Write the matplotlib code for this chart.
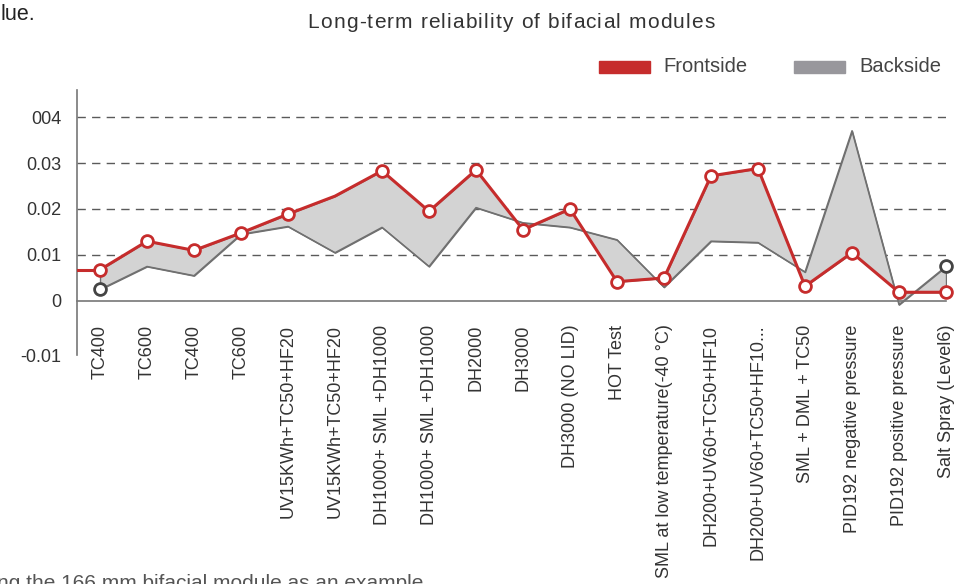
import matplotlib
matplotlib.use('Agg')
import matplotlib.pyplot as plt
from matplotlib.patches import Rectangle
from matplotlib.font_manager import FontProperties
import numpy as np

plt.rcParams['font.family'] = ['Liberation Sans', 'DejaVu Sans']

# data
tests = ['TC400', 'TC600', 'TC400', 'TC600',
         'UV15KWh+TC50+HF20', 'UV15KWh+TC50+HF20',
         'DH1000+ SML +DH1000', 'DH1000+ SML +DH1000',
         'DH2000', 'DH3000', 'DH3000 (NO LID)', 'HOT Test',
         'SML at low temperature(-40 °C)',
         'DH200+UV60+TC50+HF10', 'DH200+UV60+TC50+HF10...',
         'SML + DML + TC50', 'PID192 negative pressure',
         'PID192 positive pressure', 'Salt Spray (Level6)']
front = [0.0068, 0.0130, 0.0110, 0.0148, 0.0189, 0.0228, 0.0283, 0.0195,
         0.0285, 0.0155, 0.0200, 0.0042, 0.0050, 0.0272, 0.0288, 0.0032,
         0.0105, 0.0019, 0.0019]
back = [0.0025, 0.0075, 0.0055, 0.0145, 0.0162, 0.0105, 0.0160, 0.0075,
        0.0203, 0.0170, 0.0160, 0.0133, 0.0030, 0.0130, 0.0127, 0.0063,
        0.0370, -0.0008, 0.0075]
front_nomark = [5]          # point drawn without a circle
yticks = [-0.01, 0, 0.01, 0.02, 0.03, 0.04]
yticklabels = ['-0.01', '0', '0.01', '0.02', '0.03', '004']
grid_levels = [0.01, 0.02, 0.03, 0.04]

RED = '#c62c2c'
GREY_FILL = '#d3d3d3'
GREY_LINE = '#707070'


def spaced_text(fig, xc, y, s, size, gap, color):
	# matplotlib has no letter spacing, so place the characters one by one
	r = fig.canvas.get_renderer()
	fp = FontProperties(family='Liberation Sans', size=size)
	def wid(t):
		return r.get_text_width_height_descent(t + 'l', fp, ismath=False)[0] - \
			r.get_text_width_height_descent('l', fp, ismath=False)[0]
	total = wid(s) + gap*(len(s)-1)
	x0 = xc - total/2
	for i, ch in enumerate(s):
		if ch == ' ':
			continue
		xp = x0 + wid(s[:i]) + gap*i
		fig.text(xp/fig.bbox.width, y, ch, ha='left', va='center',
				 fontproperties=fp, color=color)


fig = plt.figure(figsize=(9.68, 5.84), dpi=100)
W, H = 968., 584.
ax = fig.add_axes([77/W, 1-355/H, (946-77)/W, (355-90)/H])

x = np.arange(len(tests))
xmin, xmax = -0.49, len(tests)-1
ymin, ymax = -0.01174, 0.04587
ax.set_xlim(xmin, xmax)
ax.set_ylim(ymin, ymax)

for g in grid_levels:
	ax.axhline(g, color='#5a5a5a', lw=1.0, dashes=(6, 4.5), zorder=0)

ax.fill_between(x, front, back, facecolor=GREY_FILL, edgecolor=GREY_LINE,
				lw=1.0, zorder=1)
ax.plot(x, back, color=GREY_LINE, lw=1.1, zorder=2)
ax.plot([x[0], x[-1]], [back[0], back[-1]], ls='none', marker='o', ms=8.5,
		mfc='white', mec='#444444', mew=2, zorder=5, clip_on=False)

ax.plot([xmin, x[0]], [front[0], front[0]], color=RED, lw=2.2, zorder=3)
marks = [i for i in range(len(front)) if i not in front_nomark]
ax.plot(x, front, color=RED, lw=2.2, marker='o', ms=8.5, mfc='white',
		mec=RED, mew=2, markevery=marks, zorder=4, clip_on=False)

# axes styling
for s in ['top', 'right']:
	ax.spines[s].set_visible(False)
ax.spines['bottom'].set_position(('data', 0))
ax.spines['bottom'].set_color('#777777')
ax.spines['bottom'].set_linewidth(1.2)
ax.spines['left'].set_color('#777777')
ax.spines['left'].set_linewidth(1.2)

ax.set_xticks(x)
ax.set_xticklabels(tests, rotation=90, fontsize=13, color='#333333')
ax.tick_params(axis='x', length=0, pad=17)
ax.set_yticks([ymin] + yticks[1:])
ax.set_yticklabels(yticklabels, fontsize=13, color='#333333')
ax.tick_params(axis='y', length=0, pad=11)

spaced_text(fig, 511, 1-22/H, 'Long-term reliability of bifacial modules',
			15, 1.15, '#333333')

# legend
fig.add_artist(Rectangle((599/W, 1-73/H), 51/W, 12/H, color=RED,
						 transform=fig.transFigure))
fig.text(663/W, 1-67/H, 'Frontside', ha='left', va='center', fontsize=14.5,
		 color='#444444')
fig.add_artist(Rectangle((794/W, 1-73/H), 51/W, 12/H, color='#98979c',
						 transform=fig.transFigure))
fig.text(859/W, 1-67/H, 'Backside', ha='left', va='center', fontsize=14.5,
		 color='#444444')

# page text around the chart (the lower line is cut by the page edge)
fig.text(0, 1-14/H, 'lue.', ha='left', va='center', fontsize=15.5,
		 color='#222222')
fig.text(-3/W, 1-574/H, 'ng the 166 mm bifacial module as an example',
		 ha='left', va='top', fontsize=15, color='#555555')

fig.savefig('out.png', dpi=100)
